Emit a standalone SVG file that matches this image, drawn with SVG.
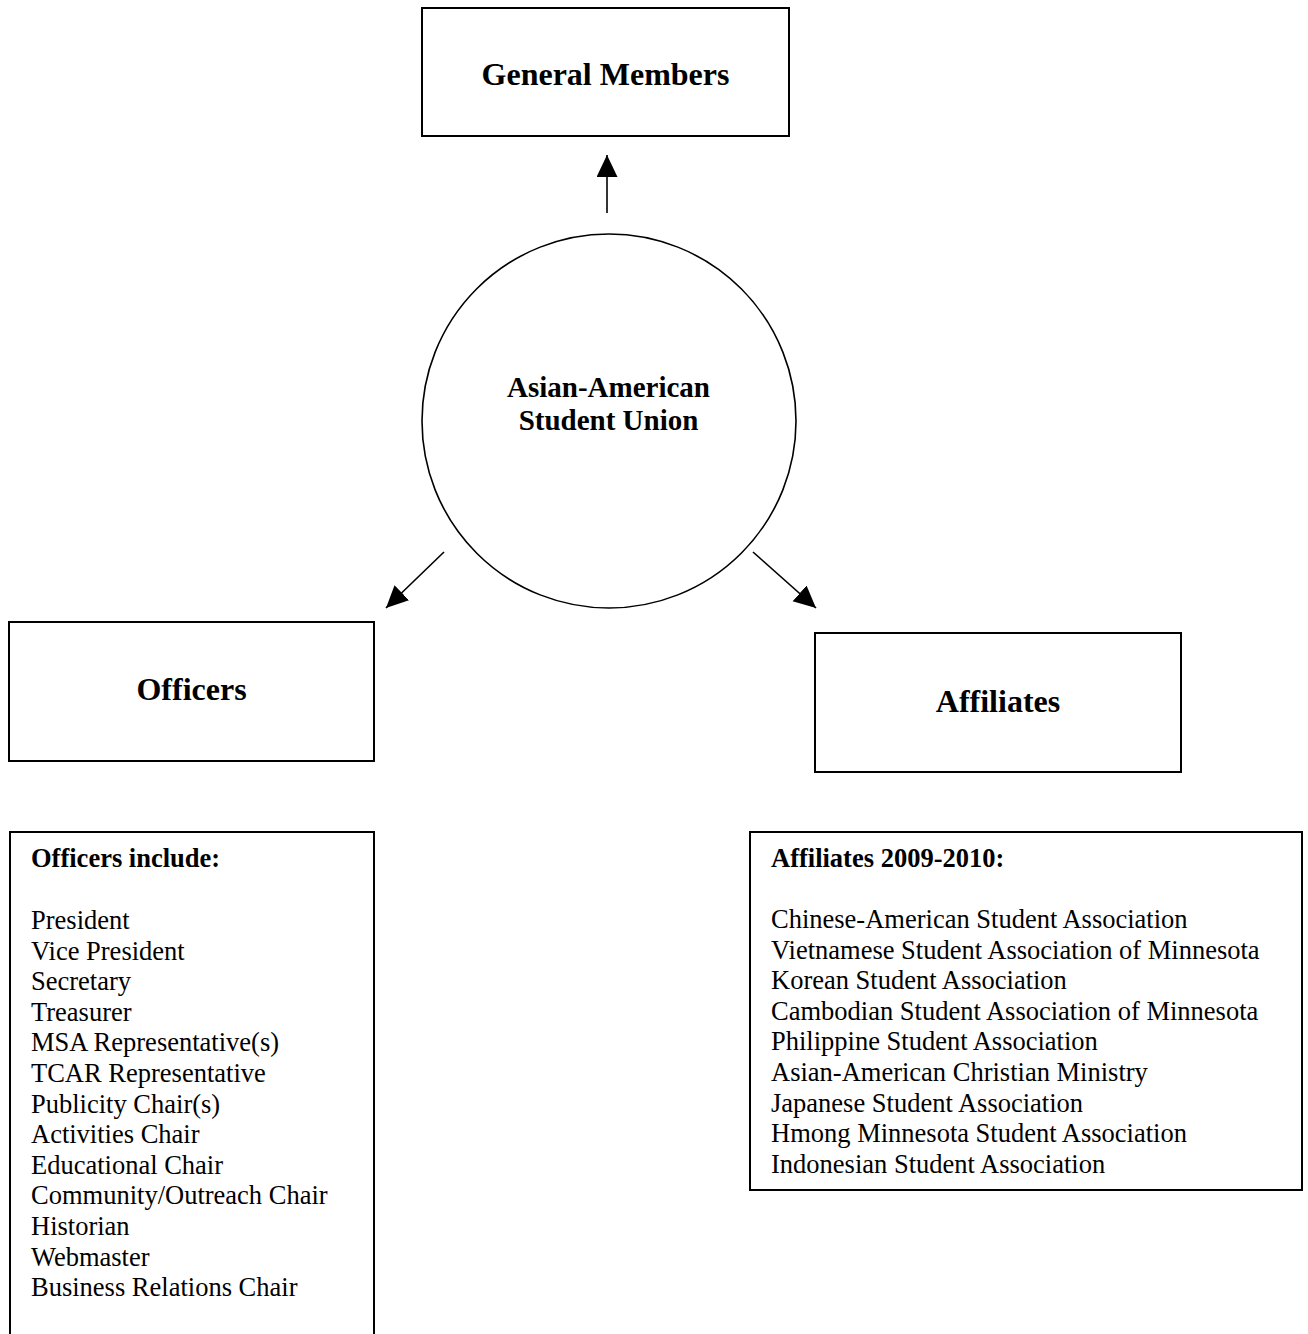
<svg xmlns="http://www.w3.org/2000/svg" width="1308" height="1334" viewBox="0 0 1308 1334">
<style>
.box{fill:#fff;stroke:#000;stroke-width:2}
.circ{fill:#fff;stroke:#000;stroke-width:1.6}
.title{font-family:"Liberation Serif","Times New Roman",serif;font-weight:bold;font-size:32px;text-anchor:middle;fill:#000}
.ctext{font-family:"Liberation Serif","Times New Roman",serif;font-weight:bold;font-size:29px;text-anchor:middle;fill:#000}
.list{font-family:"Liberation Serif","Times New Roman",serif;font-size:26.5px;fill:#000}
.hdr{font-weight:bold}
.conn{stroke:#000;stroke-width:1.6;fill:none}
</style>
<defs>
<marker id="arrow" markerUnits="userSpaceOnUse" markerWidth="24" markerHeight="22" refX="22" refY="10.5" orient="auto">
<path d="M0,0 L22,10.5 L0,21 z" fill="#000"/>
</marker>
</defs>
<rect width="1308" height="1334" fill="#fff"/>
<g id="general-members">
<rect class="box" x="422" y="8" width="367" height="128"/>
<text class="title" x="605.5" y="85">General Members</text>
</g>
<g id="aasu">
<circle class="circ" cx="609" cy="421" r="187"/>
<text class="ctext" x="608.5" y="397">Asian-American</text>
<text class="ctext" x="608.5" y="430">Student Union</text>
</g>
<g id="officers">
<rect class="box" x="9" y="622" width="365" height="139"/>
<text class="title" x="191.5" y="700">Officers</text>
</g>
<g id="affiliates">
<rect class="box" x="815" y="633" width="366" height="139"/>
<text class="title" x="998" y="712">Affiliates</text>
</g>
<g id="officers-list">
<rect class="box" x="10" y="832" width="364" height="520"/>
<text class="list" x="31">
<tspan class="hdr" x="31" y="867">Officers include:</tspan>
<tspan x="31" y="929">President</tspan>
<tspan x="31" y="959.6">Vice President</tspan>
<tspan x="31" y="990.2">Secretary</tspan>
<tspan x="31" y="1020.8">Treasurer</tspan>
<tspan x="31" y="1051.4">MSA Representative(s)</tspan>
<tspan x="31" y="1082">TCAR Representative</tspan>
<tspan x="31" y="1112.6">Publicity Chair(s)</tspan>
<tspan x="31" y="1143.2">Activities Chair</tspan>
<tspan x="31" y="1173.8">Educational Chair</tspan>
<tspan x="31" y="1204.4">Community/Outreach Chair</tspan>
<tspan x="31" y="1235">Historian</tspan>
<tspan x="31" y="1265.6">Webmaster</tspan>
<tspan x="31" y="1296.2">Business Relations Chair</tspan>
</text>
</g>
<g id="affiliates-list">
<rect class="box" x="750" y="832" width="552" height="358"/>
<text class="list" x="771">
<tspan class="hdr" x="771" y="867">Affiliates 2009-2010:</tspan>
<tspan x="771" y="928">Chinese-American Student Association</tspan>
<tspan x="771" y="958.6">Vietnamese Student Association of Minnesota</tspan>
<tspan x="771" y="989.2">Korean Student Association</tspan>
<tspan x="771" y="1019.8">Cambodian Student Association of Minnesota</tspan>
<tspan x="771" y="1050.4">Philippine Student Association</tspan>
<tspan x="771" y="1081">Asian-American Christian Ministry</tspan>
<tspan x="771" y="1111.6">Japanese Student Association</tspan>
<tspan x="771" y="1142.2">Hmong Minnesota Student Association</tspan>
<tspan x="771" y="1172.8">Indonesian Student Association</tspan>
</text>
</g>
<g id="connectors">
<line class="conn" x1="607" y1="213" x2="607" y2="155" marker-end="url(#arrow)"/>
<line class="conn" x1="444" y1="552" x2="386" y2="608" marker-end="url(#arrow)"/>
<line class="conn" x1="753" y1="552" x2="816" y2="608" marker-end="url(#arrow)"/>
</g>
</svg>
